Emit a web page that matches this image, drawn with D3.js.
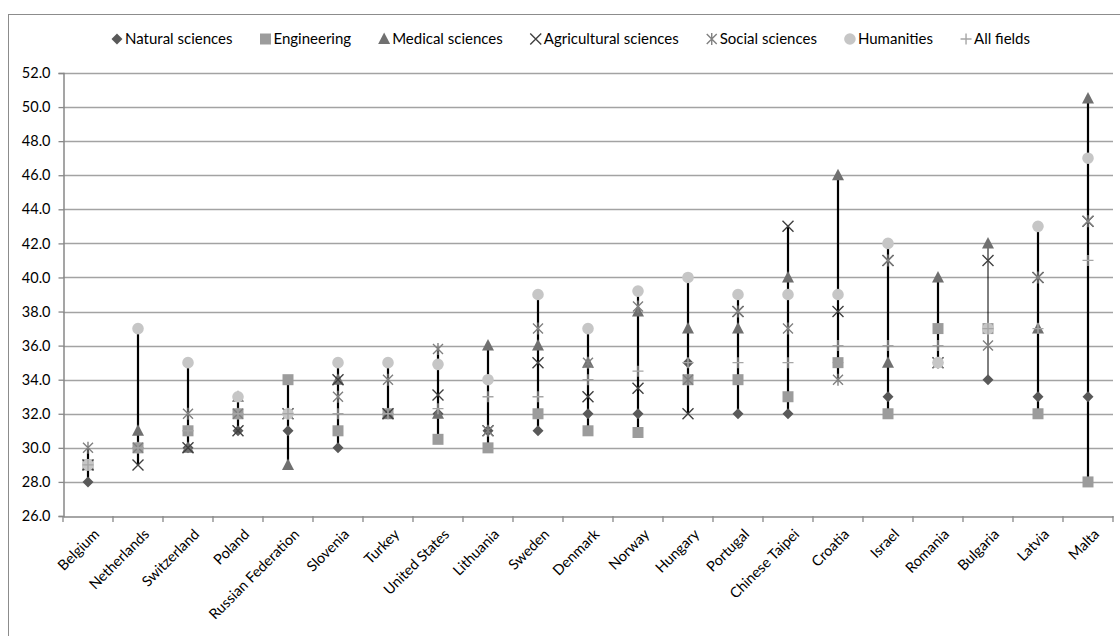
<!DOCTYPE html>
<html>
<head>
<meta charset="utf-8">
<script src="https://cdn.jsdelivr.net/npm/d3@7"></script>
<style>
  html, body { margin: 0; padding: 0; background: #fff; }
  svg { display: block; font-family: Lato, "Open Sans", sans-serif; }
</style>
</head>
<body>
<svg id="chart" width="1120" height="636"></svg>
<script>
const countries = ["Belgium", "Netherlands", "Switzerland", "Poland", "Russian Federation", "Slovenia", "Turkey", "United States", "Lithuania", "Sweden", "Denmark", "Norway", "Hungary", "Portugal", "Chinese Taipei", "Croatia", "Israel", "Romania", "Bulgaria", "Latvia", "Malta"];

const naturalSciences      = [28, 30, 30, 31, 31, 30, 32, 32, 31, 31, 32, 32, 35, 32, 32, 35, 33, 35, 34, 33, 33];
const engineering          = [29, 30, 31, 32, 34, 31, 32, 30.5, 30, 32, 31, 30.9, 34, 34, 33, 35, 32, 37, 37, 32, 28];
const medicalSciences      = [29, 31, 30, 33, 29, 34, 32, 32, 36, 36, 35, 38, 37, 37, 40, 46, 35, 40, 42, 37, 50.5];
const agriculturalSciences = [29, 29, 30, 31, 32, 34, 32, 33.1, 31, 35, 33, 33.5, 32, 38, 43, 38, 41, 35, 41, 40, 43.3];
const socialSciences       = [30, 30, 32, 32, 32, 33, 34, 35.8, 31, 37, 35, 38.3, 34, 38, 37, 34, 41, 35, 36, 40, 43.3];
const humanities           = [29, 37, 35, 33, 32, 35, 35, 34.9, 34, 39, 37, 39.2, 40, 39, 39, 39, 42, 35, 37, 43, 47];
const allFields            = [29, 30, 31, 32, 32, 32, 32, 32.3, 33, 33, 34, 34.5, 35, 35, 35, 36, 36, 36, 37, 37, 41];

const seriesNames = ["Natural sciences", "Engineering", "Medical sciences", "Agricultural sciences", "Social sciences", "Humanities", "All fields"];
const yTicks = [26, 28, 30, 32, 34, 36, 38, 40, 42, 44, 46, 48, 50, 52];

const seriesValues = [naturalSciences, engineering, medicalSciences, agriculturalSciences, socialSciences, humanities, allFields];
const markerTypes = ["diamond", "square", "triangle", "x", "asterisk", "circle", "plus"];
const markerColors = ["#595959", "#9c9c9c", "#707070", "#404040", "#808080", "#c6c6c6", "#a6a6a6"];

const svg = d3.select("#chart");

// Outer frame
svg.append("rect").attr("x", 8.5).attr("y", 14.5).attr("width", 1130).attr("height", 640)
  .attr("fill", "none").attr("stroke", "#8c8c8c").attr("stroke-width", 1);

const x = d3.scaleBand().domain(countries).range([63, 1113]).paddingInner(0).paddingOuter(0);
const y = d3.scaleLinear().domain([26, 52]).range([516, 73]);

// gridlines
svg.append("g").selectAll("line").data(yTicks.filter(t => t > 26)).join("line")
  .attr("x1", 63).attr("x2", 1113)
  .attr("y1", d => Math.round(y(d)) + 0.5).attr("y2", d => Math.round(y(d)) + 0.5)
  .attr("stroke", "#a3a3a3").attr("stroke-width", 1.3);

// y axis
const yAxis = d3.axisLeft(y).tickValues(yTicks).tickFormat(d3.format(".1f")).tickSize(5).tickPadding(8);
const gy = svg.append("g").attr("transform", "translate(63.5,0)").call(yAxis);
gy.select(".domain").attr("stroke", "#888").attr("stroke-width", 1.5);
gy.selectAll(".tick line").attr("stroke", "#888").attr("stroke-width", 1.3);
gy.selectAll(".tick text").attr("font-size", 14.5).attr("fill", "#000").attr("font-family", "Lato");

// x axis
const xAxis = d3.axisBottom(x).tickSize(0).tickFormat("");
const gx = svg.append("g").attr("transform", "translate(0,516.5)").call(xAxis);
gx.select(".domain").attr("stroke", "#888").attr("stroke-width", 1.5);
// boundary ticks
const bounds = countries.map(c => x(c)).concat([x(countries[countries.length - 1]) + x.bandwidth()]);
svg.append("g").selectAll("line").data(bounds).join("line")
  .attr("x1", d => d).attr("x2", d => d).attr("y1", 516).attr("y2", 522)
  .attr("stroke", "#888").attr("stroke-width", 1.3);

// x labels
svg.append("g").selectAll("text").data(countries).join("text")
  .attr("transform", d => `translate(${x(d) + x.bandwidth() / 2 + 5},${528}) rotate(-45)`)
  .attr("text-anchor", "end").attr("dy", "0.7em")
  .attr("font-size", 14.5).attr("fill", "#000").text(d => d);

// high-low lines
const lo = countries.map((c, i) => d3.min(seriesValues, s => s[i]));
const hi = countries.map((c, i) => d3.max(seriesValues, s => s[i]));
svg.append("g").selectAll("line").data(countries).join("line")
  .attr("x1", d => x(d) + x.bandwidth() / 2).attr("x2", d => x(d) + x.bandwidth() / 2)
  .attr("y1", (d, i) => y(lo[i])).attr("y2", (d, i) => y(hi[i]))
  .attr("stroke", "#000").attr("stroke-width", d => d === "Bulgaria" ? 1 : 2.2);

function markerPath(type) {
  const p = d3.path();
  switch (type) {
    case "diamond": p.moveTo(0, -5.5); p.lineTo(5.5, 0); p.lineTo(0, 5.5); p.lineTo(-5.5, 0); p.closePath(); break;
    case "square": p.rect(-5.5, -5.5, 11, 11); break;
    case "triangle": p.moveTo(0, -6.5); p.lineTo(6, 5); p.lineTo(-6, 5); p.closePath(); break;
    case "circle": p.arc(0, 0, 5.8, 0, 2 * Math.PI); break;
    case "x": p.moveTo(-5.5, -5.5); p.lineTo(5.5, 5.5); p.moveTo(5.5, -5.5); p.lineTo(-5.5, 5.5); break;
    case "asterisk": p.moveTo(-5, -5); p.lineTo(5, 5); p.moveTo(5, -5); p.lineTo(-5, 5); p.moveTo(0, -6); p.lineTo(0, 6); break;
    case "plus": p.moveTo(-5.5, 0); p.lineTo(5.5, 0); p.moveTo(0, -5.5); p.lineTo(0, 5.5); break;
  }
  return p.toString();
}
const filled = t => ["diamond", "square", "triangle", "circle"].includes(t);

function drawMarker(g, type, color) {
  g.append("path").attr("d", markerPath(type))
    .attr("fill", filled(type) ? color : "none")
    .attr("stroke", filled(type) ? "none" : color)
    .attr("stroke-width", filled(type) ? 0 : 1.4);
}

seriesValues.forEach((vals, si) => {
  const g = svg.append("g");
  g.selectAll("g").data(vals).join("g")
    .attr("transform", (v, i) => `translate(${x(countries[i]) + x.bandwidth() / 2},${y(v)})`)
    .each(function () { drawMarker(d3.select(this), markerTypes[si], markerColors[si]); });
});

// legend
const legend = svg.append("g");
const items = seriesNames.map((name, i) => {
  const g = legend.append("g");
  drawMarker(g.append("g").attr("transform", "translate(5,0)"), markerTypes[i], markerColors[i]);
  const t = g.append("text").attr("x", 13).attr("dy", "0.35em").attr("font-size", 15).attr("fill", "#000").text(name);
  return {g, w: 13 + t.node().getComputedTextLength()};
});
const gap = 28;
const total = d3.sum(items, d => d.w) + gap * (items.length - 1);
let cx = 571 - total / 2;
items.forEach(it => { it.g.attr("transform", `translate(${cx},39)`); cx += it.w + gap; });
</script>
</body>
</html>
